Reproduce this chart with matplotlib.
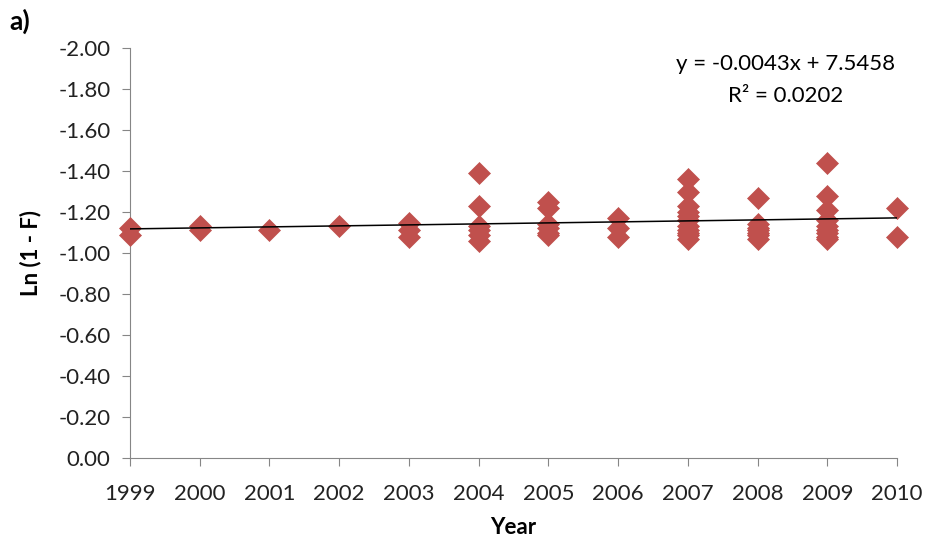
import numpy as np
import matplotlib
matplotlib.use("Agg")
import matplotlib.pyplot as plt
from matplotlib.ticker import FormatStrFormatter

plt.rcParams["font.family"] = ["Lato", "DejaVu Sans"]
plt.rcParams["axes.unicode_minus"] = False

RED, AXIS = "#C0504D", "#868686"

# Ln(1 - F) per year (dense clusters overlap)
year = ([1999] * 2 + [2000] * 2 + [2001] + [2002] + [2003] * 3 + [2004] * 6 +
        [2005] * 6 + [2006] * 3 + [2007] * 11 + [2008] * 7 + [2009] * 9 + [2010] * 2)
ln1f = [-1.12, -1.09,
        -1.13, -1.11,
        -1.11,
        -1.13,
        -1.145, -1.11, -1.08,
        -1.39, -1.23, -1.13, -1.11, -1.09, -1.06,
        -1.25, -1.22, -1.14, -1.12, -1.10, -1.09,
        -1.17, -1.12, -1.08,
        -1.36, -1.30, -1.23, -1.20, -1.18, -1.16, -1.13, -1.11, -1.10, -1.09, -1.07,
        -1.27, -1.14, -1.12, -1.11, -1.10, -1.09, -1.07,
        -1.44, -1.28, -1.21, -1.16, -1.13, -1.11, -1.10, -1.08, -1.07,
        -1.22, -1.08]
eq_text = "y = -0.0043x + 7.5458\nR² = 0.0202"

fig = plt.figure(figsize=(9.31, 5.42), dpi=100)
ax = fig.add_axes([0.1396, 0.155, 0.8239, 0.7564])

ax.scatter(year, ln1f, marker="D", s=125, color=RED, edgecolors=RED, linewidths=0.5,
           zorder=3, clip_on=False)

# linear trend from the points themselves
k, b = np.polyfit(year, ln1f, 1)
xs = np.array([1999, 2010])
ax.plot(xs, k * xs + b, color="black", lw=1.1, zorder=4)

ax.set_xlim(1999, 2010)
ax.set_ylim(0, -2)
ax.set_xticks(range(1999, 2011))
ax.set_yticks(np.arange(0, -2.01, -0.2))
ax.yaxis.set_major_formatter(FormatStrFormatter("%.2f"))
for s in ("top", "right"):
    ax.spines[s].set_visible(False)
for s in ("left", "bottom"):
    ax.spines[s].set_color(AXIS)
ax.tick_params(colors=AXIS, labelcolor="#222222", labelsize=16, length=6, direction="out")
ax.tick_params(axis="x", pad=13)
ax.tick_params(axis="y", pad=8)

ax.set_xlabel("Year", fontsize=16, fontweight="bold", labelpad=9)
ax.set_ylabel("Ln (1 - F)", fontsize=16, fontweight="bold", labelpad=12)

ax.text(0.855, 0.922, eq_text, transform=ax.transAxes, ha="center", va="center",
        fontsize=16, linespacing=1.75)
fig.text(0.01, 0.96, "a)", fontsize=19, fontweight="bold", va="center")

fig.savefig("out.png", dpi=100, facecolor="white")
